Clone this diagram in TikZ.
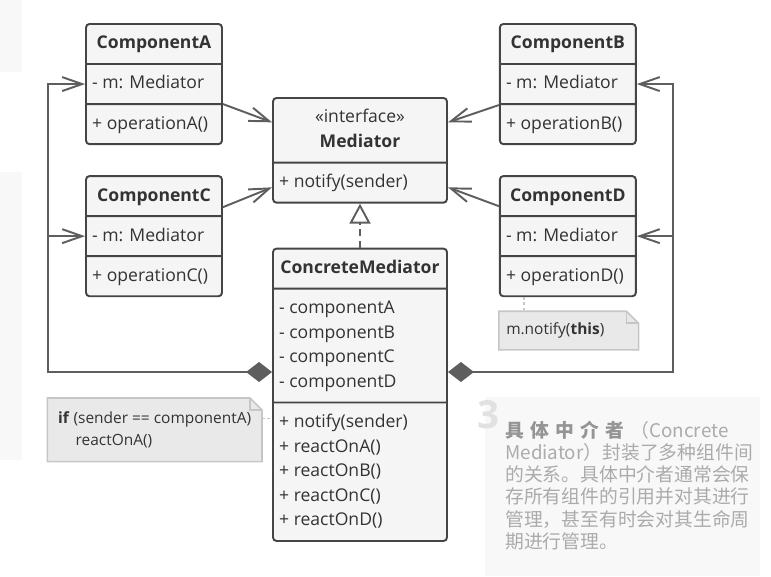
\documentclass[tikz,border=0pt]{standalone}
\usepackage{fontspec}
\setmainfont{Open Sans}
\newfontfamily\cjk{Noto Sans CJK SC}
\usepackage{tikz}
\usetikzlibrary{positioning, arrows.meta, shapes.multipart, backgrounds}

\definecolor{boxline}{HTML}{454545}
\definecolor{boxfill}{HTML}{F5F5F5}
\definecolor{txt}{HTML}{333333}
\definecolor{conn}{HTML}{5E5E5E}
\definecolor{notefill}{HTML}{E9E9E9}
\definecolor{noteline}{HTML}{C6C6C6}
\definecolor{panel}{HTML}{F8F8F8}
\definecolor{paneltxt}{HTML}{ABABAB}
\definecolor{paneltitle}{HTML}{959595}
\definecolor{bignum}{HTML}{E1E1E1}

\tikzset{
	cls/.style={rectangle split, rectangle split parts=3, rectangle split part align={center,left,left}, draw=boxline, fill=boxfill, line width=1.1pt, rounded corners=2pt, minimum width=2.72cm, inner xsep=3.5pt, inner ysep=3.85pt, align=left, text=txt, font=\fontsize{10}{14}\selectfont},
	dep/.style={draw=conn, line width=1.1pt, -{Straight Barb[length=0.4cm, width=0.28cm]}},
	agg/.style={dep, {Diamond[length=0.52cm, width=0.4cm]}-{Straight Barb[length=0.4cm, width=0.28cm]}},
	real/.style={draw=conn, line width=1.1pt, dash pattern=on 4pt off 2.5pt, -{Triangle[open, length=0.4cm, width=0.42cm]}},
	note/.style={align=left, text=txt, font=\fontsize{8.8}{13}\selectfont, inner xsep=0.14cm, inner ysep=0pt},
	notebg/.style={fill=notefill, draw=noteline, line width=0.9pt},
	nlink/.style={draw=noteline, line width=0.9pt, dash pattern=on 1.5pt off 1.5pt}
}

\begin{document}
\begin{tikzpicture}[x=0.02cm, y=-0.02cm]
	\useasboundingbox (0,0) rectangle (771,576);
	\fill[panel] (0,0) rectangle (22,72);
	\fill[panel] (0,172) rectangle (22,460);
	\fill[panel] (485,397) rectangle (760,576);

	\node[cls, anchor=north] (ca) at (154,23) {\strut\textbf{ComponentA}\nodepart{two}\strut - m: Mediator\nodepart{three}\strut + operationA()};
	\node[cls, below=0.6cm of ca] (cc) {\strut\textbf{ComponentC}\nodepart{two}\strut - m: Mediator\nodepart{three}\strut + operationC()};
	\node[cls, right=5.52cm of ca] (cb) {\strut\textbf{ComponentB}\nodepart{two}\strut - m: Mediator\nodepart{three}\strut + operationB()};
	\node[cls, below=0.6cm of cb] (cd) {\strut\textbf{ComponentD}\nodepart{two}\strut - m: Mediator\nodepart{three}\strut + operationD()};

	\node[cls, rectangle split parts=2, minimum width=3.48cm, align=center, anchor=north] (md) at (360,97) {\strut«interface»\\\textbf{Mediator}\strut\nodepart{two}\strut + notify(sender)};
	\node[cls, minimum width=3.48cm, below=0.88cm of md] (cm) {\strut\textbf{ConcreteMediator}\nodepart{two}\strut - componentA\\ - componentB\\ - componentC\\ - componentD\strut\nodepart{three}\strut + notify(sender)\\ + reactOnA()\\ + reactOnB()\\ + reactOnC()\\ + reactOnD()\strut};

	\node[note, anchor=north east, minimum width=4.28cm, minimum height=1.26cm] (nl) at (262,398) {\textbf{if} (sender == componentA)\\\hspace*{10pt}reactOnA()};
	\node[note, below=0.28cm of cd.south west, anchor=north west, minimum width=2.78cm, minimum height=0.76cm, text width=2.5cm] (nr) {m.notify(\textbf{this})};
	\begin{scope}[on background layer]
		\filldraw[notebg] (nl.south west) -- (nl.north west) -- ([xshift=-0.24cm]nl.north east) -- ([yshift=-0.24cm]nl.north east) -- (nl.south east) -- cycle;
		\filldraw[notebg] (nr.south west) -- (nr.north west) -- ([xshift=-0.24cm]nr.north east) -- ([yshift=-0.24cm]nr.north east) -- (nr.south east) -- cycle;
	\end{scope}
	\draw[noteline, line width=0.9pt] ([xshift=-0.24cm]nl.north east) |- ([yshift=-0.24cm]nl.north east);
	\draw[noteline, line width=0.9pt] ([xshift=-0.24cm]nr.north east) |- ([yshift=-0.24cm]nr.north east);
	\draw[nlink] ([yshift=0.23cm]nl.east) -- ([yshift=0.23cm]nl.east -| cm.west);
	\draw[nlink] ([xshift=0.5cm]cd.south west) -- ([xshift=0.5cm]nr.north west);

	\draw[dep] ([yshift=-0.4cm]ca.east) -- ([yshift=0.56cm]md.west);
	\draw[dep] ([yshift=0.58cm]cc.east) -- ([yshift=-0.74cm]md.west);
	\draw[dep] ([yshift=-0.42cm]cb.west) -- ([yshift=0.56cm]md.east);
	\draw[dep] ([yshift=0.6cm]cd.west) -- ([yshift=-0.74cm]md.east);
	\draw[real] (cm.north) -- (md.south);

	\coordinate (lb) at (48,372);
	\coordinate (rb) at (673,372);
	\draw[agg] (cm.west |- lb) -- (lb) |- (ca.west);
	\draw[dep] (lb) |- (cc.west);
	\draw[agg] (cm.east |- rb) -- (rb) |- (cb.east);
	\draw[dep] (rb) |- (cd.east);

	\node[font=\fontsize{22}{22}\selectfont\bfseries, text=bignum, anchor=base west, inner sep=0pt] (num) at (477,428) {3};
	\node[font=\cjk\fontsize{10.7}{12.7}\selectfont, text=paneltxt, text width=4.9cm, align=left, anchor=base west, inner sep=0pt] (desc) at (505,437) {\makebox[\linewidth][s]{\textcolor{paneltitle}{\bfseries 具 体 中 介 者} （Concrete}\\Mediator）封装了多种组件间\\的关系。具体中介者通常会保\\存所有组件的引用并对其进行\\管理，甚至有时会对其生命周\\期进行管理。};
\end{tikzpicture}
\end{document}
